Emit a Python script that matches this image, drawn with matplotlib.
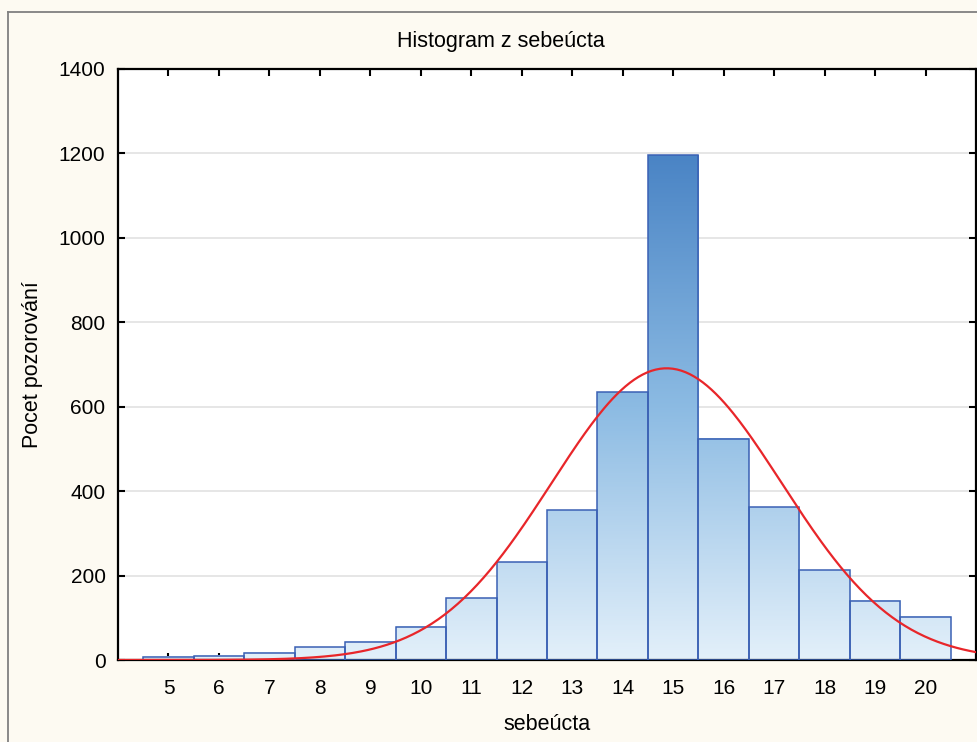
import numpy as np
import matplotlib.pyplot as plt
from matplotlib.colors import LinearSegmentedColormap
from matplotlib.lines import Line2D

plt.rcParams['font.family'] = ['Liberation Sans', 'DejaVu Sans']

# data
bins = [5, 6, 7, 8, 9, 10, 11, 12, 13, 14, 15, 16, 17, 18, 19, 20]
counts = [8, 10, 17, 30, 43, 79, 146, 232, 355, 634, 1196, 524, 362, 213, 140, 103]

# fitted normal curve (expected counts)
fit_mean = 14.87
fit_sd = 2.28
fit_peak = 691

fig = plt.figure(figsize=(9.77, 7.42), dpi=100, facecolor='#fdfaf2')
ax = fig.add_axes([118 / 977, 82 / 742, 858 / 977, 591 / 742])
ax.set_facecolor('white')

cmap = LinearSegmentedColormap.from_list('bl', ['#e3f0fa', '#8cbbe3', '#4a84c5'])
grad = np.linspace(0, 1, 256).reshape(-1, 1)
for x, h in zip(bins, counts):
    ax.imshow(grad * h / 1200, extent=(x - 0.5, x + 0.5, 0, h), origin='lower',
              cmap=cmap, vmin=0, vmax=1, aspect='auto', zorder=2)
ax.bar(bins, counts, width=1.0, facecolor='none', edgecolor='#3a60b4',
       linewidth=1.1, zorder=3)

xs = np.linspace(4, 21, 400)
ys = fit_peak * np.exp(-0.5 * ((xs - fit_mean) / fit_sd) ** 2)
ax.plot(xs, ys, color='#e8262a', linewidth=1.6, zorder=4)

ax.set_xlim(4, 21)
ax.set_ylim(0, 1400)
ax.set_xticks(bins)
ax.set_yticks(range(0, 1401, 200))
ax.yaxis.grid(True, color='#e2e2e2', linewidth=1.2, zorder=0)
ax.set_axisbelow(True)
ax.tick_params(direction='in', length=5, width=1.5, top=True, right=True,
               labelsize=15)
ax.tick_params(axis='x', pad=14)
ax.tick_params(axis='y', pad=9)
for s in ax.spines.values():
    s.set_linewidth(1.6)

fig.text(501 / 977, 1 - 42 / 742, 'Histogram z sebeúcta', fontsize=15.5,
         ha='center', va='center')
ax.set_xlabel('sebeúcta', fontsize=15.5, va='center')
ax.set_ylabel('Pocet pozorování', fontsize=15.5, va='center')
ax.xaxis.set_label_coords(0.5, (660 - 724) / 591)
ax.yaxis.set_label_coords((33 - 118) / 858, 0.5)

# outer frame (top and left visible)
fig.add_artist(Line2D([7.5 / 977, 1], [1 - 11.5 / 742] * 2, color='#808080', lw=1.3))
fig.add_artist(Line2D([7.5 / 977] * 2, [0, 1 - 11.5 / 742], color='#808080', lw=1.3))

fig.savefig('out.png', dpi=100, facecolor=fig.get_facecolor())
